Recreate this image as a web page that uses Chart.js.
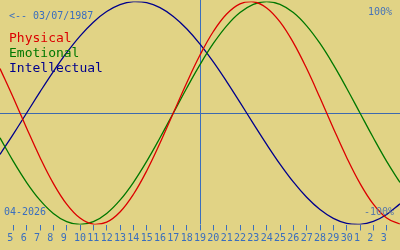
<!DOCTYPE html>
<html><head><meta charset="utf-8">
<script src="https://cdn.jsdelivr.net/npm/chart.js@4"></script>
<style>
html,body{margin:0;padding:0;background:#e1d385;overflow:hidden}
#wrap{position:relative;width:400px;height:250px;background:#e1d385}
canvas{position:absolute;left:0;top:0}
.t{position:absolute;font-family:'DejaVu Sans Mono',monospace;line-height:1;white-space:pre}
</style></head><body>
<div id="wrap"><canvas id="c" width="400" height="250"></canvas></div>
<script>
// Days shown (04-2026 from the 4th to the 4th of the next month)
const dayLabels = ['4','5','6','7','8','9','10','11','12','13','14','15','16','17','18','19','20','21','22','23','24','25','26','27','28','29','30','1','2','3','4'];
const physical = [0.3984,0.1362,-0.1362,-0.3984,-0.6311,-0.8170,-0.9423,-0.9977,-0.9791,-0.8879,-0.7308,-0.5196,-0.2698,0,0.2698,0.5196,0.7308,0.8879,0.9791,0.9977,0.9423,0.8170,0.6311,0.3984,0.1362,-0.1362,-0.3984,-0.6311,-0.8170,-0.9423,-0.9977];
const emotional = [-0.2225,-0.4339,-0.6235,-0.7818,-0.9010,-0.9749,-1.0,-0.9749,-0.9010,-0.7818,-0.6235,-0.4339,-0.2225,0,0.2225,0.4339,0.6235,0.7818,0.9010,0.9749,1.0,0.9749,0.9010,0.7818,0.6235,0.4339,0.2225,0,-0.2225,-0.4339,-0.6235];
const intellectual = [-0.3717,-0.1893,0,0.1893,0.3717,0.5406,0.6901,0.8146,0.9096,0.9718,0.9989,0.9898,0.9450,0.8660,0.7557,0.6182,0.4582,0.2817,0.0951,-0.0951,-0.2817,-0.4582,-0.6182,-0.7557,-0.8660,-0.9450,-0.9898,-0.9989,-0.9718,-0.9096,-0.8146];
const seriesNames = ['Physical','Emotional','Intellectual'];
const seriesColors = ['#dc0000','#007800','#00008c'];
const todayIndex = 15;            // the 19th
const birthText = '<-- 03/07/1987';
const monthText = '04-2026';
const yMaxText = '100%';
const yMinText = '-100%';

const AXIS = '#3a6ebe';
const wrap = document.getElementById('wrap');
function addText(txt, left, top, size, color){
  const d = document.createElement('div');
  d.className = 't';
  d.textContent = txt;
  d.style.left = left + 'px'; d.style.top = top + 'px';
  d.style.fontSize = size + 'px'; d.style.color = color;
  wrap.appendChild(d);
}

const refLines = {
  id: 'refLines',
  beforeDatasetsDraw(chart){
    const {ctx, chartArea, scales:{x, y}} = chart;
    const xi = Math.round(x.getPixelForValue(todayIndex)) + 0.5;
    const y0 = Math.round(y.getPixelForValue(0)) + 0.5;
    ctx.save();
    ctx.lineWidth = 1;
    ctx.strokeStyle = '#3d69ae';
    ctx.beginPath(); ctx.moveTo(chartArea.left, y0); ctx.lineTo(chartArea.right, y0); ctx.stroke();
    ctx.strokeStyle = AXIS;
    ctx.beginPath(); ctx.moveTo(xi, 0); ctx.lineTo(xi, chartArea.bottom); ctx.stroke();
    ctx.restore();
  }
};

const series = [physical, emotional, intellectual];
new Chart(document.getElementById('c'), {
  type: 'line',
  data: {
    labels: dayLabels,
    datasets: series.map((s, i) => ({
      label: seriesNames[i], data: s, borderColor: seriesColors[i],
      borderWidth: 1.3, pointRadius: 0, tension: 0.4, fill: false
    }))
  },
  options: {
    responsive: false, animation: false, events: [],
    layout: {padding: {top: 1.5, bottom: 3.5, left: 0, right: 0}},
    plugins: {legend: {display: false}, tooltip: {enabled: false}},
    scales: {
      x: {
        type: 'category', offset: false,
        afterBuildTicks: (s) => { s.ticks = s.ticks.slice(1, -1); },
        grid: {display: true, drawOnChartArea: false, drawTicks: true, tickLength: 6, color: AXIS, lineWidth: 1},
        border: {display: false},
        ticks: {autoSkip: false, maxRotation: 0, minRotation: 0, align: 'start', labelOffset: -6, padding: 2,
                color: AXIS, font: {family: 'DejaVu Sans Mono', size: 10}}
      },
      y: {display: false, min: -1, max: 1}
    }
  },
  plugins: [refLines]
});

addText(birthText, 9, 11, 10, AXIS);
seriesNames.forEach((n, i) => addText(n, 9, 31 + 15 * i, 13, seriesColors[i]));
addText(yMaxText, 368, 7, 10, '#4673b8');
addText(monthText, 4, 207, 10, AXIS);
addText(yMinText, 364, 207, 10, '#5a7aa8');
</script>
</body></html>
